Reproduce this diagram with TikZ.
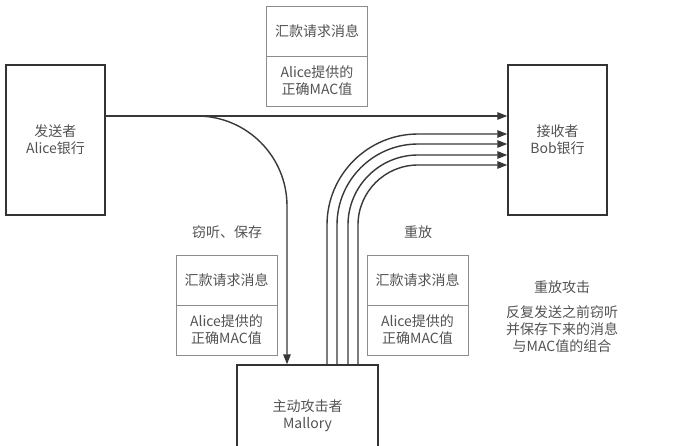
\documentclass[tikz,border=0pt]{standalone}
\usepackage{fontspec}
\setmainfont{Noto Sans CJK SC}
\usetikzlibrary{arrows.meta}
\begin{document}
\begin{tikzpicture}[x=1pt,y=-1pt,
  txt/.style={font=\fontsize{14}{17}\selectfont, text=black!68, align=center, inner sep=0pt},
  bank/.style={txt, draw=black!80, line width=1.5pt, minimum width=99pt, minimum height=150pt},
  attacker/.style={txt, draw=black!80, line width=1.5pt, minimum width=141pt, minimum height=102pt},
  half/.style={txt, draw=black!45, line width=0.8pt, minimum width=101pt, minimum height=50pt},
  arr/.style={draw=black!78, line width=1.4pt, -{Triangle[length=10pt,width=7.5pt]}}
]
\path[use as bounding box] (0,0) rectangle (678,445);
\clip (0,0) rectangle (678,445);

% main parties
\node[bank] (alice) at (55.5,140) {发送者\\Alice银行};
\node[bank] (bob) at (557.5,140) {接收者\\Bob银行};
\node[attacker] (mallory) at (307.5,416) {主动攻击者\\Mallory};

% message boxes
\node[half] (mT1) at (317,31) {汇款请求消息};
\node[half] (mT2) at (317,81) {Alice提供的\\正确MAC值};
\node[half] (mL1) at (226.5,280.5) {汇款请求消息};
\node[half] (mL2) at (226.5,330) {Alice提供的\\正确MAC值};
\node[half] (mR1) at (417.5,280.5) {汇款请求消息};
\node[half] (mR2) at (417.5,330) {Alice提供的\\正确MAC值};

% labels
\node[txt] (lsave) at (227,232) {窃听、保存};
\node[txt] (lreplay) at (418,232) {重放};
\node[txt] (ltitle) at (562,287) {重放攻击};
\node[txt] (ldesc) at (562,329) {反复发送之前窃听\\并保存下来的消息\\与MAC值的组合};

% helper coordinates
\coordinate (h116) at (0,116);
\coordinate (h134) at (0,134);
\coordinate (h144) at (0,144);
\coordinate (h155) at (0,155);
\coordinate (h165) at (0,165);
\coordinate (v0) at (287,0);
\coordinate (v1) at (327,0);
\coordinate (v2) at (337,0);
\coordinate (v3) at (348,0);
\coordinate (v4) at (358,0);
\coordinate (br) at (197,116);

% normal transmission
\draw[arr] (alice.east |- h116) -- (bob.west |- h116);

% eavesdrop
\draw[arr] (br) .. controls (246.7,116) and (287,156.3) .. (287,206) -- (mallory.north -| v0);

% replays
\draw[arr, rounded corners=91pt] (mallory.north -| v1) -- (v1 |- h134) -- (bob.west |- h134);
\draw[arr, rounded corners=81pt] (mallory.north -| v2) -- (v2 |- h144) -- (bob.west |- h144);
\draw[arr, rounded corners=70pt] (mallory.north -| v3) -- (v3 |- h155) -- (bob.west |- h155);
\draw[arr, rounded corners=60pt] (mallory.north -| v4) -- (v4 |- h165) -- (bob.west |- h165);
\end{tikzpicture}
\end{document}
